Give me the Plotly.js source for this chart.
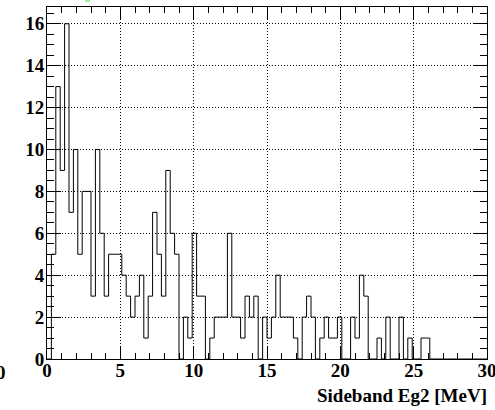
<!DOCTYPE html>
<html>
<head>
<meta charset="utf-8">
<script src="https://cdn.plot.ly/plotly-3.0.1.min.js"></script>
<style>html,body{margin:0;padding:0;background:#fff;}#chart{width:495px;height:410px;}</style>
</head>
<body>
<div id="chart"></div>
<script>
// Histogram: 100 bins from 0 to 30 MeV (bin width 0.3)
const binLow = 0;
const binWidth = 0.3;
const counts = [
  0, 5, 13, 9, 16, 7, 10, 5, 8, 8,
  3, 10, 6, 3, 5, 5, 5, 4, 3, 2,
  3, 4, 1, 3, 7, 5, 3, 9, 6, 5,
  0, 2, 1, 6, 3, 3, 0, 1, 2, 2,
  2, 6, 2, 2, 1, 3, 2, 3, 0, 2,
  1, 2, 4, 2, 2, 2, 1, 0, 2, 3,
  2, 0, 1, 2, 1, 1, 2, 0, 0, 2,
  1, 4, 3, 0, 0, 1, 0, 2, 0, 0,
  2, 0, 1, 0, 0, 1, 1, 0, 0, 0,
  0, 0, 0, 0, 0, 0, 0, 0, 0, 0
];
const xTickVals = [0, 5, 10, 15, 20, 25, 30];
const yTickVals = [0, 2, 4, 6, 8, 10, 12, 14, 16];
const xTitle = "Sideband Eg2 [MeV]";

const edges = counts.map((_, i) => binLow + i * binWidth);
edges.push(binLow + counts.length * binWidth);
const ys = counts.concat([counts[counts.length - 1]]);

const FAMILY = "Liberation Serif";
const labelFont = {family: FAMILY, size: 19, color: "#000", weight: "bold"};

const trace = {
  type: "scatter", mode: "lines", x: edges, y: ys,
  line: {shape: "hv", color: "#000", width: 1},
  hoverinfo: "skip", showlegend: false
};

const W = 495, H = 410, L = 47, R = 8, T = 7, B = 51;
const pw = W - L - R, ph = H - T - B;

const layout = {
  width: W, height: H,
  margin: {l: L, r: R, t: T, b: B, pad: 0},
  paper_bgcolor: "#fff", plot_bgcolor: "#fff",
  showlegend: false,
  font: {family: FAMILY, color: "#000"},
  xaxis: {
    range: [0, 30], tickvals: xTickVals, ticktext: xTickVals.map(String),
    ticks: "inside", ticklen: 12, tickwidth: 1, tickcolor: "#000",
    minor: {dtick: 1, ticks: "inside", ticklen: 6, tickwidth: 1, tickcolor: "#000", showgrid: false},
    showline: true, linecolor: "#000", linewidth: 1, mirror: "allticks",
    showgrid: true, gridcolor: "#000", gridwidth: 1, griddash: "1px,2px",
    zeroline: false, tickfont: labelFont, ticklabelstandoff: -6,
    ticklabeloverflow: "allow", fixedrange: true
  },
  yaxis: {
    range: [0, 16.8], tickvals: yTickVals, ticktext: yTickVals.map(String),
    ticks: "inside", ticklen: 14, tickwidth: 1, tickcolor: "#000",
    minor: {dtick: 0.5, ticks: "inside", ticklen: 7, tickwidth: 1, tickcolor: "#000", showgrid: false},
    showline: true, linecolor: "#000", linewidth: 1, mirror: "allticks",
    showgrid: true, gridcolor: "#000", gridwidth: 1, griddash: "1px,2px",
    zeroline: false, tickfont: labelFont, ticklabelstandoff: -2,
    ticklabeloverflow: "allow", fixedrange: true
  },
  annotations: [
    {xref: "paper", yref: "paper", x: 1, y: 0, xanchor: "right", yanchor: "middle",
     yshift: -36, xshift: 2, text: xTitle, showarrow: false, font: labelFont},
    {xref: "paper", yref: "paper", x: (1 - L) / pw, y: 0, xanchor: "center", yanchor: "middle",
     yshift: -13, text: "0", showarrow: false, font: labelFont}
  ],
  shapes: [
    {type: "rect", xref: "paper", yref: "paper",
     x0: (85 - L) / pw, x1: (90 - L) / pw, y0: 1 + (T - 2) / ph, y1: 1 + T / ph,
     line: {width: 0}, fillcolor: "#9ef09e"}
  ]
};

Plotly.newPlot("chart", [trace], layout, {displayModeBar: false, staticPlot: true});
</script>
</body>
</html>
